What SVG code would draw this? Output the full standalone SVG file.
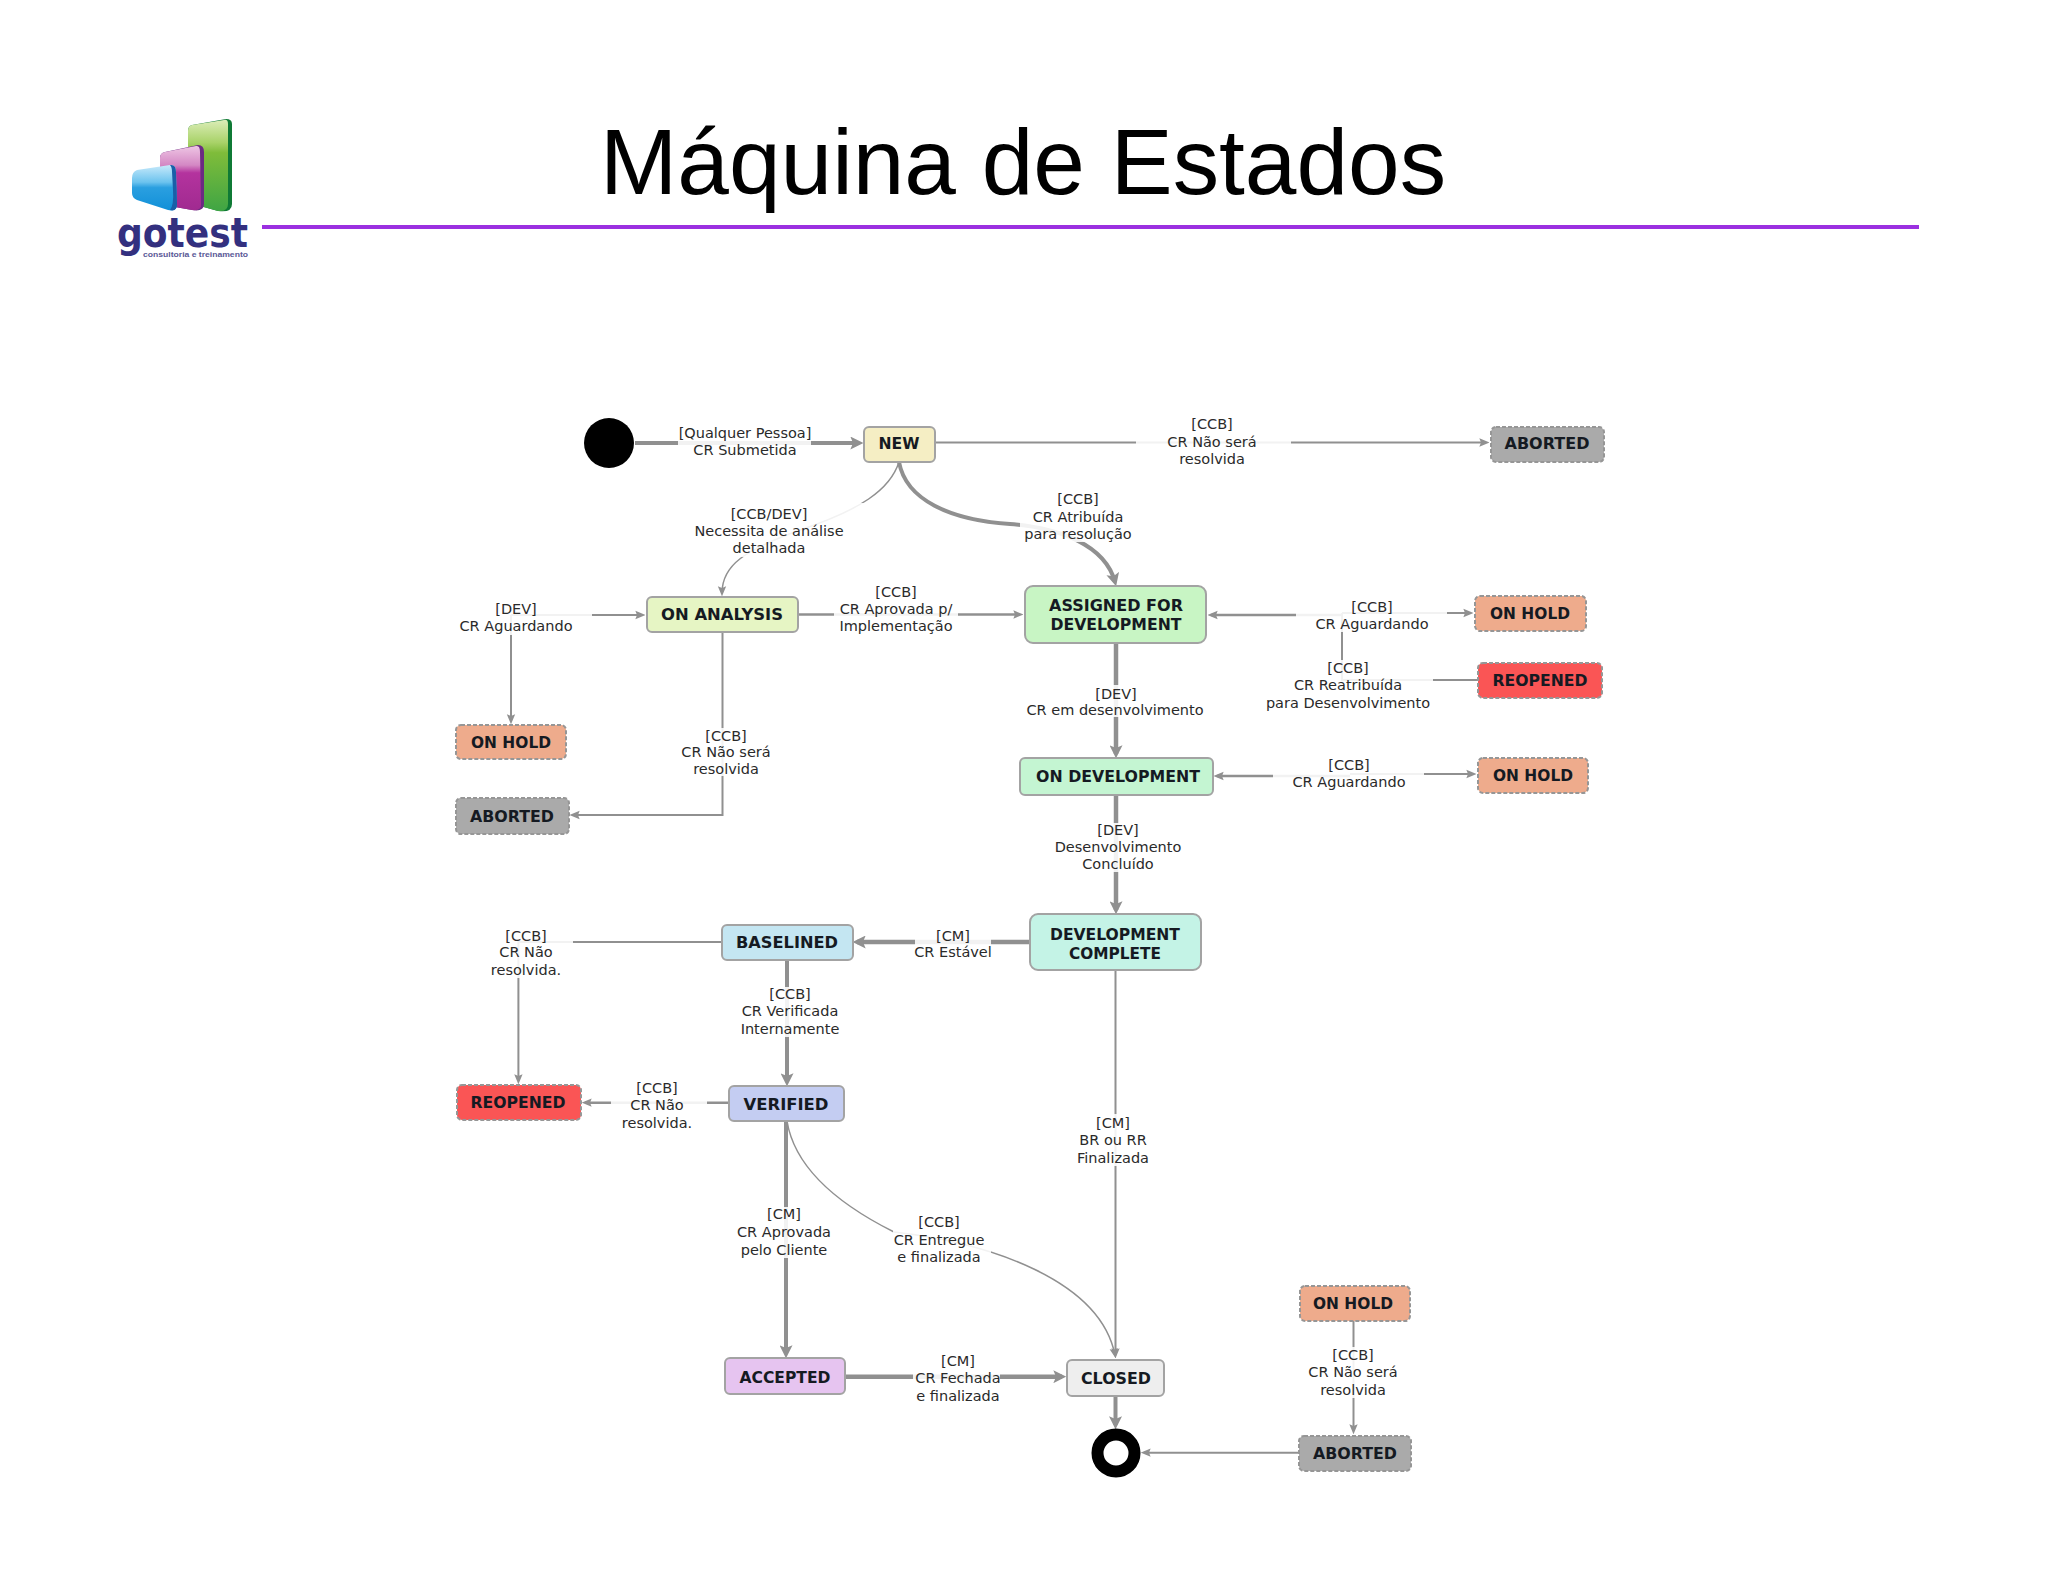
<svg xmlns="http://www.w3.org/2000/svg" width="2048" height="1582" viewBox="0 0 2048 1582">
<style>
.n{stroke:#a3a3a3;stroke-width:2}
.d{stroke:#969696;stroke-width:2;stroke-dasharray:4 2}
.nt{font:bold 15.5px "DejaVu Sans",sans-serif;fill:#151a22;text-anchor:middle}
.c{fill:none;stroke:#909090}
.s{stroke-width:1.5}.m{stroke-width:2}.w{stroke-width:2.5}.x{stroke-width:4}.t{stroke-width:4.5}
.lb{font:14.5px "DejaVu Sans",sans-serif;fill:#2a2a2a;text-anchor:middle}
.h{fill:#fff;fill-opacity:.88}
</style>
<defs>
<marker id="a" markerUnits="userSpaceOnUse" viewBox="0 0 12 12" markerWidth="13" markerHeight="13" refX="8" refY="6" orient="auto"><path d="M0 0L12 6L0 12L2.5 6Z" fill="#909090"/></marker>
<marker id="b" markerUnits="userSpaceOnUse" viewBox="0 0 12 12" markerWidth="10" markerHeight="10" refX="8" refY="6" orient="auto"><path d="M0 1L12 6L0 11L2 6Z" fill="#909090"/></marker>
<linearGradient id="g1" x1="0" y1="0" x2="0" y2="1"><stop offset="0" stop-color="#dcedb8"/><stop offset=".25" stop-color="#a8d268"/><stop offset=".36" stop-color="#7fbc3a"/><stop offset="1" stop-color="#3fa544"/></linearGradient>
<linearGradient id="g2" x1="0" y1="0" x2="0" y2="1"><stop offset="0" stop-color="#eec6e4"/><stop offset=".3" stop-color="#d488c4"/><stop offset=".42" stop-color="#b4339e"/><stop offset="1" stop-color="#a02a90"/></linearGradient>
<linearGradient id="g3" x1="0" y1="0" x2="0" y2="1"><stop offset="0" stop-color="#c8eafb"/><stop offset=".38" stop-color="#6cc3ee"/><stop offset=".5" stop-color="#2a9fe0"/><stop offset="1" stop-color="#1190d8"/></linearGradient>
</defs>

<g id="title"><text x="600" y="193.5" style="font:92.8px 'Liberation Sans',Arial,sans-serif;fill:#000">Máquina de Estados</text></g>
<g id="title-rule"><rect x="262" y="225" width="1657" height="4" fill="#9b30e0"/></g>

<g id="logo">
<path d="M192 125Q188 126 188 131V197Q188 203 193 204L218 211Q232 213 232 204V124Q232 119 226 119Z" fill="#0f7a35"/>
<path d="M192 125Q188 126 188 131V197Q188 203 193 204L218 211Q228 212 228 204V124Q228 119 224 120Z" fill="url(#g1)"/>
<path d="M165 152Q160 153 160 158V199Q160 203 164 205L192 210Q204 212 204 204V152Q204 145 198 145Z" fill="#6b2a82"/>
<path d="M165 152Q160 153 160 158V199Q160 203 164 205L192 210Q202 211 201 204L200 152Q200 145 196 146Z" fill="url(#g2)"/>
<path d="M137 170Q132 172 132 178V193Q132 198 137 200L168 210Q177 212 177 204L176 172Q176 164 170 165Z" fill="url(#g3)"/>
<path d="M170 165Q176 164 176 172L177 204Q177 212 170 210Q174 205 173 190L172 172Q172 167 170 165Z" fill="#1a5fa8"/>
<text x="117" y="246.5" textLength="131" lengthAdjust="spacingAndGlyphs" style="font:bold 40px 'DejaVu Sans',sans-serif;fill:#33307f">gotest</text>
<text x="143" y="257" textLength="105" lengthAdjust="spacingAndGlyphs" style="font:bold 8px 'Liberation Sans',sans-serif;fill:#5a5896">consultoria e treinamento</text>
</g>

<g id="connectors">
<path class="c x" marker-end="url(#a)" d="M635 443H859"/>
<path class="c m" marker-end="url(#b)" d="M935 442.5H1486"/>
<path class="c x" marker-end="url(#a)" d="M899 462C906 500 950 520 1010 524C1060 528 1105 545 1115 582"/>
<path class="c s" marker-end="url(#b)" d="M899 462C890 490 860 510 800 530C745 550 722 565 722 593"/>
<path class="c w" marker-end="url(#b)" d="M798 614.5H1020"/>
<path class="c m" marker-end="url(#b)" d="M511 615H642"/>
<path class="c m" marker-end="url(#b)" d="M511 615V721"/>
<path class="c m" marker-end="url(#b)" d="M722.5 632V815H573"/>
<path class="c w" marker-end="url(#b)" d="M1342 615H1211"/>
<path class="c m" marker-end="url(#b)" d="M1342 613H1470"/>
<path class="c m" d="M1477 680H1342V613"/>
<path class="c t" marker-end="url(#a)" d="M1116 643V754"/>
<path class="c w" marker-end="url(#b)" d="M1350 776H1217"/>
<path class="c m" marker-end="url(#b)" d="M1350 774H1473"/>
<path class="c t" marker-end="url(#a)" d="M1116 795V910"/>
<path class="c t" marker-end="url(#a)" d="M1030 942H857"/>
<path class="c m" marker-end="url(#b)" d="M721.6 942H518.4V1081"/>
<path class="c x" marker-end="url(#a)" d="M787 960V1082"/>
<path class="c w" marker-end="url(#b)" d="M728 1102.7H585"/>
<path class="c x" marker-end="url(#a)" d="M786 1121V1354"/>
<path class="c s" marker-end="url(#b)" d="M787 1121C795 1170 840 1205 894 1232C990 1243 1100 1280 1115 1355"/>
<path class="c m" marker-end="url(#b)" d="M1115.5 970V1355"/>
<path class="c t" marker-end="url(#a)" d="M845 1376.7H1062"/>
<path class="c x" marker-end="url(#a)" d="M1115.5 1396V1425"/>
<path class="c m" marker-end="url(#b)" d="M1353.5 1321V1431"/>
<path class="c m" marker-end="url(#b)" d="M1298 1452.7H1144"/>
</g>

<g id="connector-labels">
<g><rect class="h" x="678" y="425" width="133" height="35"/><text class="lb" x="745" y="438">[Qualquer Pessoa]</text><text class="lb" x="745" y="455">CR Submetida</text></g>
<g><rect class="h" x="1136" y="415" width="155" height="53"/><text class="lb" x="1212" y="429">[CCB]</text><text class="lb" x="1212" y="447">CR Não será</text><text class="lb" x="1212" y="464">resolvida</text></g>
<g><rect class="h" x="1020" y="490" width="120" height="52"/><text class="lb" x="1078" y="504">[CCB]</text><text class="lb" x="1078" y="522">CR Atribuída</text><text class="lb" x="1078" y="539">para resolução</text></g>
<g><rect class="h" x="690" y="503" width="190" height="54"/><text class="lb" x="769" y="519">[CCB/DEV]</text><text class="lb" x="769" y="536">Necessita de análise</text><text class="lb" x="769" y="553">detalhada</text></g>
<g><rect class="h" x="455" y="600" width="137" height="35"/><text class="lb" x="516" y="614">[DEV]</text><text class="lb" x="516" y="631">CR Aguardando</text></g>
<g><rect class="h" x="834" y="583" width="124" height="52"/><text class="lb" x="896" y="597">[CCB]</text><text class="lb" x="896" y="614">CR Aprovada p/</text><text class="lb" x="896" y="631">Implementação</text></g>
<g><rect class="h" x="680" y="728" width="90" height="48"/><text class="lb" x="726" y="741">[CCB]</text><text class="lb" x="726" y="757">CR Não será</text><text class="lb" x="726" y="774">resolvida</text></g>
<g><rect class="h" x="1296" y="598" width="151" height="34"/><text class="lb" x="1372" y="612">[CCB]</text><text class="lb" x="1372" y="629">CR Aguardando</text></g>
<g><rect class="h" x="1265" y="660" width="168" height="52"/><text class="lb" x="1348" y="673">[CCB]</text><text class="lb" x="1348" y="690">CR Reatribuída</text><text class="lb" x="1348" y="708">para Desenvolvimento</text></g>
<g><rect class="h" x="1025" y="685" width="180" height="32"/><text class="lb" x="1116" y="699">[DEV]</text><text class="lb" x="1115" y="715">CR em desenvolvimento</text></g>
<g><rect class="h" x="1273" y="757" width="151" height="33"/><text class="lb" x="1349" y="770">[CCB]</text><text class="lb" x="1349" y="787">CR Aguardando</text></g>
<g><rect class="h" x="1055" y="823" width="127" height="49"/><text class="lb" x="1118" y="835">[DEV]</text><text class="lb" x="1118" y="852">Desenvolvimento</text><text class="lb" x="1118" y="869">Concluído</text></g>
<g><rect class="h" x="915" y="928" width="76" height="33"/><text class="lb" x="953" y="941">[CM]</text><text class="lb" x="953" y="957">CR Estável</text></g>
<g><rect class="h" x="488" y="928" width="85" height="50"/><text class="lb" x="526" y="941">[CCB]</text><text class="lb" x="526" y="957">CR Não</text><text class="lb" x="526" y="975">resolvida.</text></g>
<g><rect class="h" x="740" y="987" width="100" height="50"/><text class="lb" x="790" y="999">[CCB]</text><text class="lb" x="790" y="1016">CR Verificada</text><text class="lb" x="790" y="1034">Internamente</text></g>
<g><rect class="h" x="611" y="1080" width="96" height="52"/><text class="lb" x="657" y="1093">[CCB]</text><text class="lb" x="657" y="1110">CR Não</text><text class="lb" x="657" y="1128">resolvida.</text></g>
<g><rect class="h" x="1075" y="1114" width="80" height="52"/><text class="lb" x="1113" y="1128">[CM]</text><text class="lb" x="1113" y="1145">BR ou RR</text><text class="lb" x="1113" y="1163">Finalizada</text></g>
<g><rect class="h" x="735" y="1207" width="100" height="51"/><text class="lb" x="784" y="1219">[CM]</text><text class="lb" x="784" y="1237">CR Aprovada</text><text class="lb" x="784" y="1255">pelo Cliente</text></g>
<g><rect class="h" x="893" y="1213" width="98" height="52"/><text class="lb" x="939" y="1227">[CCB]</text><text class="lb" x="939" y="1245">CR Entregue</text><text class="lb" x="939" y="1262">e finalizada</text></g>
<g><rect class="h" x="913" y="1353" width="87" height="52"/><text class="lb" x="958" y="1366">[CM]</text><text class="lb" x="958" y="1383">CR Fechada</text><text class="lb" x="958" y="1401">e finalizada</text></g>
<g><rect class="h" x="1310" y="1347" width="90" height="51"/><text class="lb" x="1353" y="1360">[CCB]</text><text class="lb" x="1353" y="1377">CR Não será</text><text class="lb" x="1353" y="1395">resolvida</text></g>
</g>

<g id="start"><circle cx="609" cy="443" r="25" fill="#000"/></g>
<g id="new"><rect class="n" x="864" y="427" width="71" height="35" rx="5" fill="#f5eec4"/><text class="nt" x="899" y="449" textLength="41" lengthAdjust="spacingAndGlyphs">NEW</text></g>
<g id="aborted-top"><rect class="d" x="1491" y="427" width="113" height="35" rx="5" fill="#aaaaaa"/><text class="nt" x="1547" y="449" textLength="85" lengthAdjust="spacingAndGlyphs">ABORTED</text></g>
<g id="on-analysis"><rect class="n" x="647" y="597" width="151" height="35" rx="5" fill="#e6f5c4"/><text class="nt" x="722" y="620" textLength="122" lengthAdjust="spacingAndGlyphs">ON ANALYSIS</text></g>
<g id="assigned"><rect class="n" x="1025" y="586" width="181" height="57" rx="8" fill="#c8f5c4"/><text class="nt" x="1116" y="611" textLength="134" lengthAdjust="spacingAndGlyphs">ASSIGNED FOR</text><text class="nt" x="1116" y="630" textLength="131" lengthAdjust="spacingAndGlyphs">DEVELOPMENT</text></g>
<g id="on-hold-assigned"><rect class="d" x="1475" y="596" width="111" height="35" rx="5" fill="#eeab8c"/><text class="nt" x="1530" y="619" textLength="80" lengthAdjust="spacingAndGlyphs">ON HOLD</text></g>
<g id="reopened-assigned"><rect class="d" x="1478" y="663" width="124" height="35" rx="5" fill="#fa5555"/><text class="nt" x="1540" y="686" textLength="95" lengthAdjust="spacingAndGlyphs">REOPENED</text></g>
<g id="on-hold-analysis"><rect class="d" x="456" y="725" width="110" height="34" rx="5" fill="#eeab8c"/><text class="nt" x="511" y="748" textLength="80" lengthAdjust="spacingAndGlyphs">ON HOLD</text></g>
<g id="aborted-analysis"><rect class="d" x="456" y="798" width="113" height="36" rx="5" fill="#aaaaaa"/><text class="nt" x="512" y="821.5" textLength="84" lengthAdjust="spacingAndGlyphs">ABORTED</text></g>
<g id="on-development"><rect class="n" x="1020" y="758" width="193" height="37" rx="5" fill="#c4f5d2"/><text class="nt" x="1118" y="782" textLength="164" lengthAdjust="spacingAndGlyphs">ON DEVELOPMENT</text></g>
<g id="on-hold-dev"><rect class="d" x="1478" y="758" width="110" height="35" rx="5" fill="#eeab8c"/><text class="nt" x="1533" y="781" textLength="80" lengthAdjust="spacingAndGlyphs">ON HOLD</text></g>
<g id="development-complete"><rect class="n" x="1030" y="914" width="171" height="56" rx="8" fill="#c4f3e6"/><text class="nt" x="1115" y="939.5" textLength="130" lengthAdjust="spacingAndGlyphs">DEVELOPMENT</text><text class="nt" x="1115" y="958.5" textLength="92" lengthAdjust="spacingAndGlyphs">COMPLETE</text></g>
<g id="baselined"><rect class="n" x="722" y="925" width="131" height="35" rx="5" fill="#c4e6f2"/><text class="nt" x="787" y="948" textLength="102" lengthAdjust="spacingAndGlyphs">BASELINED</text></g>
<g id="reopened-verified"><rect class="d" x="457" y="1085" width="124" height="35" rx="5" fill="#fa5555"/><text class="nt" x="518" y="1108" textLength="95" lengthAdjust="spacingAndGlyphs">REOPENED</text></g>
<g id="verified"><rect class="n" x="729" y="1086" width="115" height="35" rx="5" fill="#c4cdf2"/><text class="nt" x="786" y="1109.5" textLength="85" lengthAdjust="spacingAndGlyphs">VERIFIED</text></g>
<g id="accepted"><rect class="n" x="725" y="1358" width="120" height="36" rx="5" fill="#e6c4f0"/><text class="nt" x="785" y="1382.5" textLength="91" lengthAdjust="spacingAndGlyphs">ACCEPTED</text></g>
<g id="closed"><rect class="n" x="1067" y="1360" width="97" height="36" rx="5" fill="#eeeeee"/><text class="nt" x="1116" y="1383.5" textLength="70" lengthAdjust="spacingAndGlyphs">CLOSED</text></g>
<g id="on-hold-bottom"><rect class="d" x="1300" y="1286" width="110" height="35" rx="5" fill="#eeab8c"/><text class="nt" x="1353" y="1309" textLength="80" lengthAdjust="spacingAndGlyphs">ON HOLD</text></g>
<g id="aborted-bottom"><rect class="d" x="1299" y="1436" width="112" height="35" rx="5" fill="#aaaaaa"/><text class="nt" x="1355" y="1459" textLength="84" lengthAdjust="spacingAndGlyphs">ABORTED</text></g>
<g id="end"><circle cx="1116" cy="1453" r="18.5" fill="#fff" stroke="#000" stroke-width="12"/></g>
</svg>
